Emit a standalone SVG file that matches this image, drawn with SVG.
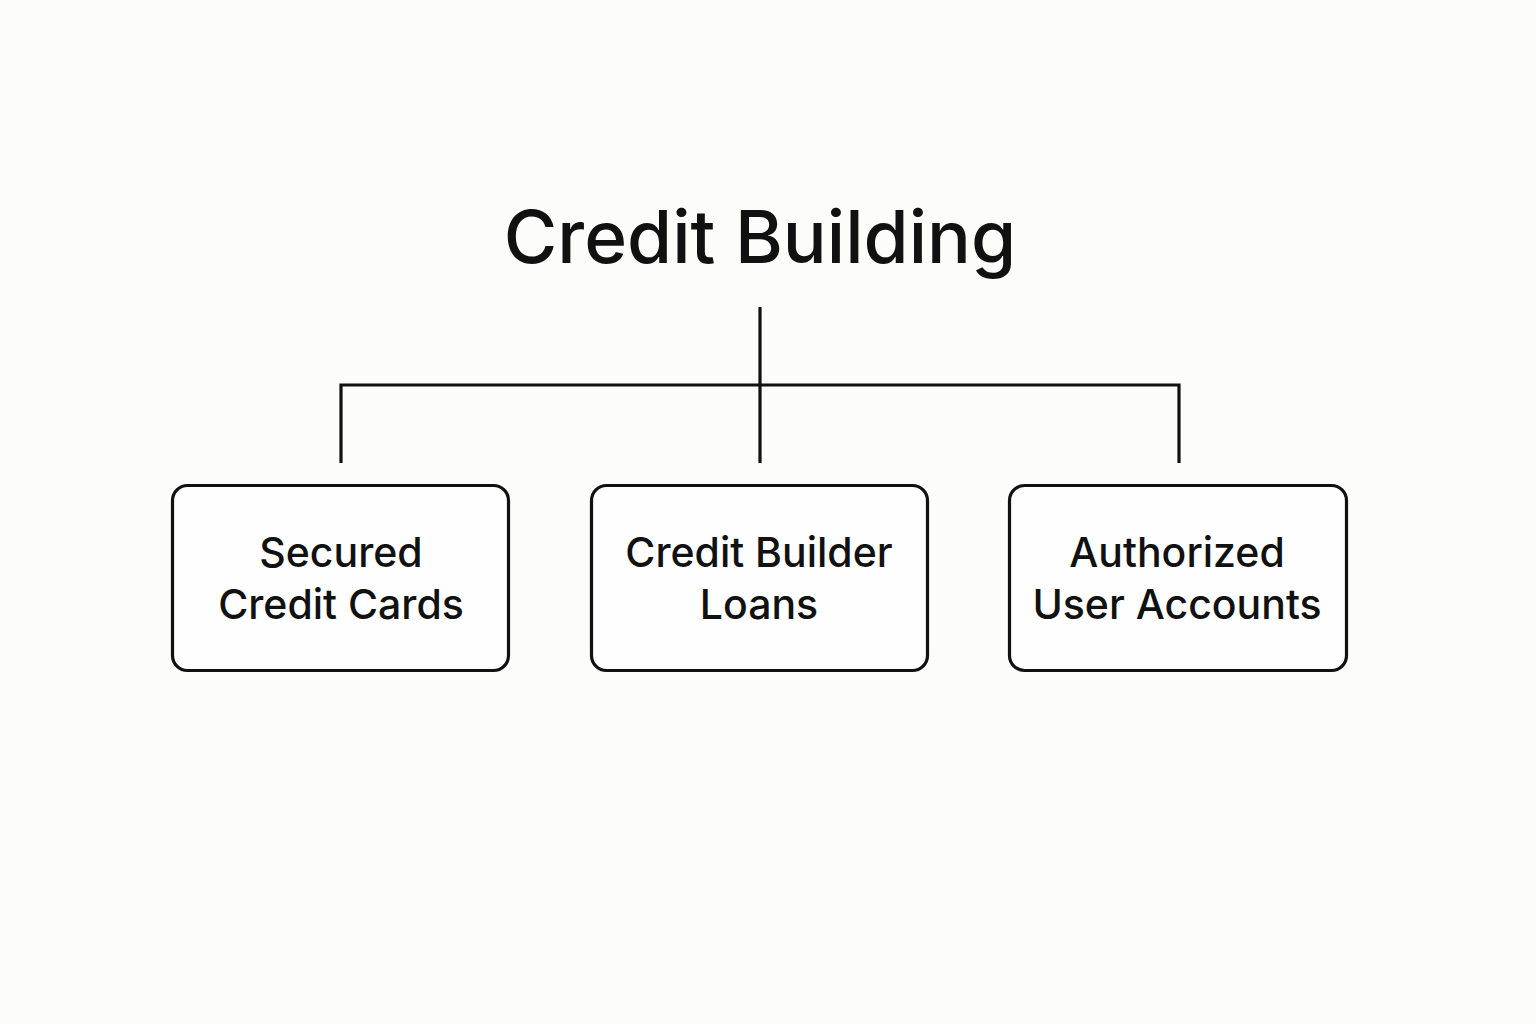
<svg xmlns="http://www.w3.org/2000/svg" width="1536" height="1024" viewBox="0 0 1536 1024">
<style>
.box{fill:#fefefe;stroke:#111;stroke-width:3.2}
.conn{fill:none;stroke:#111;stroke-width:3.2}
.lbl{font-family:Inter,"Noto Sans",sans-serif;font-size:41px;font-weight:500;fill:#111;text-anchor:middle}
.title{font-family:Inter,"Noto Sans",sans-serif;font-size:73px;font-weight:500;fill:#111;text-anchor:middle}
</style>
<rect width="1536" height="1024" fill="#fcfcfb"/>
<g id="title"><text class="title" x="760" y="263">Credit Building</text></g>
<g id="connectors">
<path class="conn" d="M760 307V463M341 463V385H1179V463"/>
</g>
<g id="node1"><rect class="box" x="172.5" y="485.5" width="336" height="185" rx="15"/>
<text class="lbl" x="341" y="567">Secured</text><text class="lbl" x="341" y="619">Credit Cards</text></g>
<g id="node2"><rect class="box" x="591.5" y="485.5" width="336" height="185" rx="15"/>
<text class="lbl" x="759" y="567">Credit Builder</text><text class="lbl" x="759" y="619">Loans</text></g>
<g id="node3"><rect class="box" x="1009.5" y="485.5" width="337" height="185" rx="15"/>
<text class="lbl" x="1177" y="567">Authorized</text><text class="lbl" x="1177" y="619">User Accounts</text></g>
</svg>
